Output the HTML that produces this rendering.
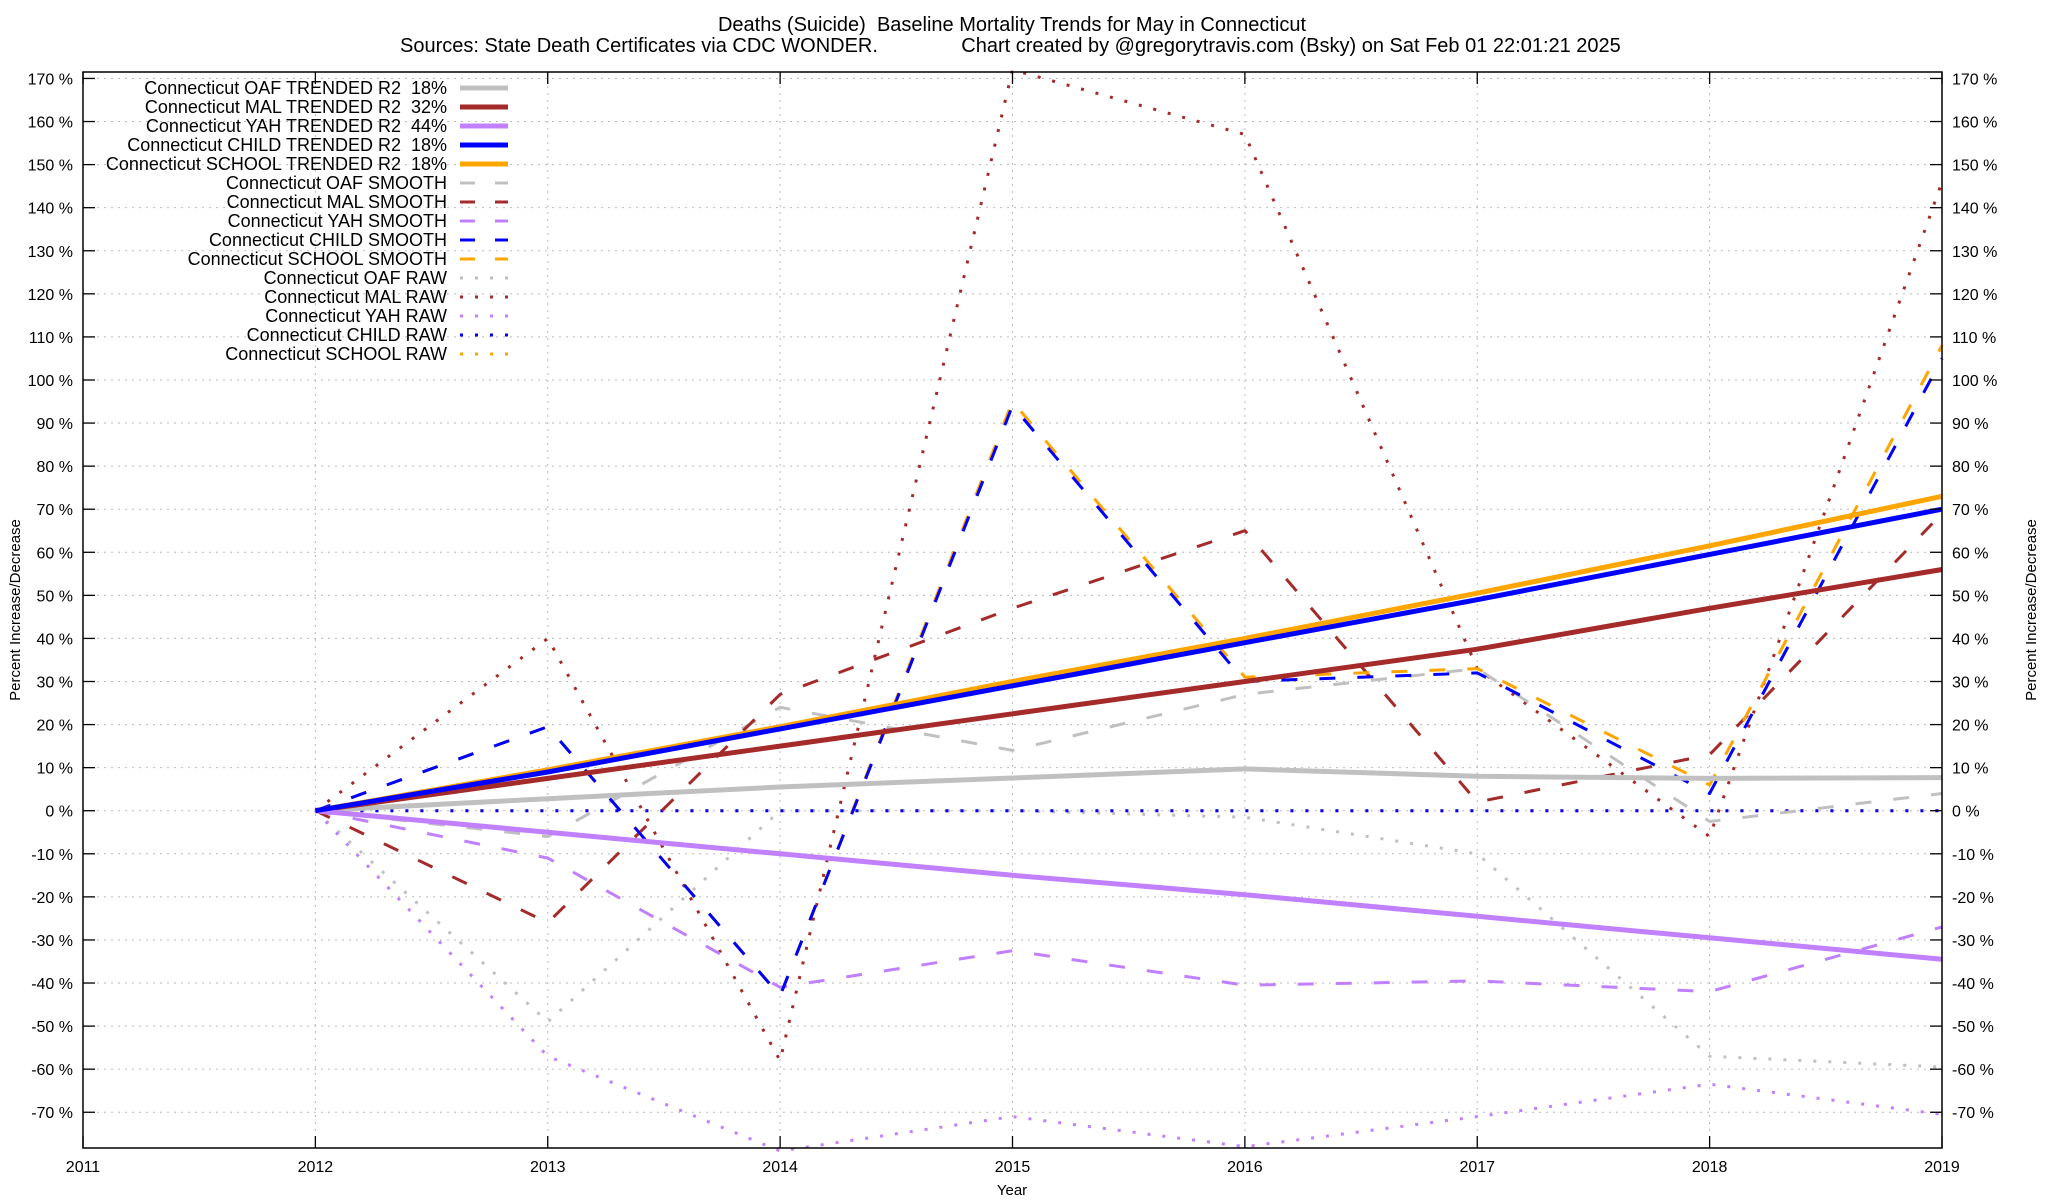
<!DOCTYPE html>
<html><head><meta charset="utf-8"><style>
html,body{margin:0;padding:0;background:#fff}
svg{display:block;font-family:"Liberation Sans",Arial,sans-serif}
text{white-space:pre}
</style></head><body>
<svg id="chart" width="2048" height="1200" viewBox="0 0 2048 1200" xmlns="http://www.w3.org/2000/svg">
<text x="1012" y="31" font-size="20" text-anchor="middle">Deaths (Suicide)  Baseline Mortality Trends for May in Connecticut</text>
<text x="400" y="52" font-size="20">Sources: State Death Certificates via CDC WONDER.               Chart created by @gregorytravis.com (Bsky) on Sat Feb 01 22:01:21 2025</text>
<g id="grid"></g>
<g id="series"></g>
<g id="axes"></g>
<g id="legend"></g>
<text x="1012" y="1195" font-size="15" text-anchor="middle">Year</text>
<text transform="translate(20,610) rotate(-90)" font-size="15" text-anchor="middle">Percent Increase/Decrease</text>
<text transform="translate(2036,610) rotate(-90)" font-size="15" text-anchor="middle">Percent Increase/Decrease</text>
</svg>
<script>
const years = [2012,2013,2014,2015,2016,2017,2018,2019];
const xTicks = [2011,2012,2013,2014,2015,2016,2017,2018,2019];
const yTicks = [-70,-60,-50,-40,-30,-20,-10,0,10,20,30,40,50,60,70,80,90,100,110,120,130,140,150,160,170];
const oafTrend = [0,2.8,5.5,7.6,9.7,8.0,7.5,7.7];
const malTrend = [0,7.5,15,22.5,30,37.5,47,56];
const yahTrend = [0,-5,-10,-15,-19.5,-24.5,-29.5,-34.5];
const childTrend = [0,9,19,29,39,49,59.5,70];
const schoolTrend = [0,9.5,19.5,30,40,50.5,61.5,73];
const oafSmooth = [0,-6,24,14,27,33,-2.5,4];
const malSmooth = [0,-26,27,47,65,2,13,69];
const yahSmooth = [0,-11,-41,-32.5,-40.5,-39.5,-42,-27];
const childSmooth = [0,19.5,-43,94,30,32,4,105];
const schoolSmooth = [0,19.5,-43,95,31,33,6,108];
const oafRaw = [0,-49,0,0,-1.5,-10,-57,-59.5];
const malRaw = [0,40,-58,172,157,33,-6,146];
const yahRaw = [0,-57,-79,-71,-78,-71,-63.5,-70.5];
const childRaw = [0,0,0,0,0,0,0,0];
const schoolRaw = [0,0,0,0,0,0,0,0];

const NS="http://www.w3.org/2000/svg";
const L=83,R=1942,T=72,B=1148;
const X0=2011,X1=2019,Y0=-78.3,Y1=171.5;
function xs(v){return L+(v-X0)/(X1-X0)*(R-L);}
function ys(v){return B-(v-Y0)/(Y1-Y0)*(B-T);}
function mk(tag,attrs,parent){const e=document.createElementNS(NS,tag);for(const k in attrs)e.setAttribute(k,attrs[k]);parent.appendChild(e);return e;}
const grid=document.getElementById('grid'),axes=document.getElementById('axes'),ser=document.getElementById('series'),leg=document.getElementById('legend');
yTicks.forEach(v=>{const y=ys(v);
 let g=mk('line',{x1:L,x2:R,y1:y,y2:y,stroke:'#bbb','stroke-width':1,'stroke-dasharray':'2 5'},grid);
 
 
 let t1=mk('line',{x1:L,x2:L+12,y1:y,y2:y,stroke:'#000','stroke-width':1.3},axes);
 
 
 let t2=mk('line',{x1:R-12,x2:R,y1:y,y2:y,stroke:'#000','stroke-width':1.3},axes);
 
 
 let a=mk('text',{x:L-10,y:y+6,'font-size':16,'text-anchor':'end'},axes);a.textContent=v+' %';
 
 
 let b=mk('text',{x:R+10,y:y+6,'font-size':16},axes);b.textContent=v+' %';
 
 
});
xTicks.forEach(v=>{const x=xs(v);
 let g=mk('line',{x1:x,x2:x,y1:T,y2:B,stroke:'#bbb','stroke-width':1,'stroke-dasharray':'2 5'},grid);
 
 
 let t1=mk('line',{x1:x,x2:x,y1:B-12,y2:B,stroke:'#000','stroke-width':1.3},axes);
 
 
 let t2=mk('line',{x1:x,x2:x,y1:T,y2:T+12,stroke:'#000','stroke-width':1.3},axes);
 
 
 let a=mk('text',{x:x,y:B+24,'font-size':16,'text-anchor':'middle'},axes);a.textContent=v;
 
 
});
let fr=mk('rect',{x:L,y:T,width:R-L,height:B-T,fill:'none',stroke:'#000','stroke-width':1.5},axes);



const C={oaf:'#c0c0c0',mal:'#a52a2a',yah:'#c080ff',child:'#0000ff',school:'#ffa500'};
const styles={trend:{w:5,d:''},smooth:{w:3,d:'16 22'},raw:{w:3,d:'3 12'}};
const series=[
 ['Connecticut OAF TRENDED R2  18%',oafTrend,C.oaf,'trend','oaf-trended-line'],
 ['Connecticut MAL TRENDED R2  32%',malTrend,C.mal,'trend','mal-trended-line'],
 ['Connecticut YAH TRENDED R2  44%',yahTrend,C.yah,'trend','yah-trended-line'],
 ['Connecticut CHILD TRENDED R2  18%',childTrend,C.child,'trend','child-trended-line'],
 ['Connecticut SCHOOL TRENDED R2  18%',schoolTrend,C.school,'trend','school-trended-line'],
 ['Connecticut OAF SMOOTH',oafSmooth,C.oaf,'smooth','oaf-smooth-line'],
 ['Connecticut MAL SMOOTH',malSmooth,C.mal,'smooth','mal-smooth-line'],
 ['Connecticut YAH SMOOTH',yahSmooth,C.yah,'smooth','yah-smooth-line'],
 ['Connecticut CHILD SMOOTH',childSmooth,C.child,'smooth','child-smooth-line'],
 ['Connecticut SCHOOL SMOOTH',schoolSmooth,C.school,'smooth','school-smooth-line'],
 ['Connecticut OAF RAW',oafRaw,C.oaf,'raw','oaf-raw-line'],
 ['Connecticut MAL RAW',malRaw,C.mal,'raw','mal-raw-line'],
 ['Connecticut YAH RAW',yahRaw,C.yah,'raw','yah-raw-line'],
 ['Connecticut CHILD RAW',childRaw,C.child,'raw','child-raw-line'],
 ['Connecticut SCHOOL RAW',schoolRaw,C.school,'raw','school-raw-line']
];
const order=[10,11,12,14,13,5,6,7,9,8,0,1,2,4,3];
order.forEach(i=>{const s=series[i];const st=styles[s[3]];
 const pts=years.map((yr,j)=>xs(yr).toFixed(1)+','+ys(s[1][j]).toFixed(1)).join(' ');
 const p=mk('polyline',{points:pts,fill:'none',stroke:s[2],'stroke-width':st.w,'stroke-linejoin':'round'},ser);
 if(st.d)p.setAttribute('stroke-dasharray',st.d);
 
 
});
series.forEach((s,i)=>{const y=88+i*19;const st=styles[s[3]];
 const t=mk('text',{x:447,y:y+6,'font-size':18,'text-anchor':'end'},leg);t.textContent=s[0];
 
 
 const l=mk('line',{x1:460,x2:508,y1:y,y2:y,stroke:s[2],'stroke-width':st.w},leg);
 if(st.d)l.setAttribute('stroke-dasharray',s[3]==='smooth'?'15 20':'3 12');
 
 
});
</script>
</body></html>
